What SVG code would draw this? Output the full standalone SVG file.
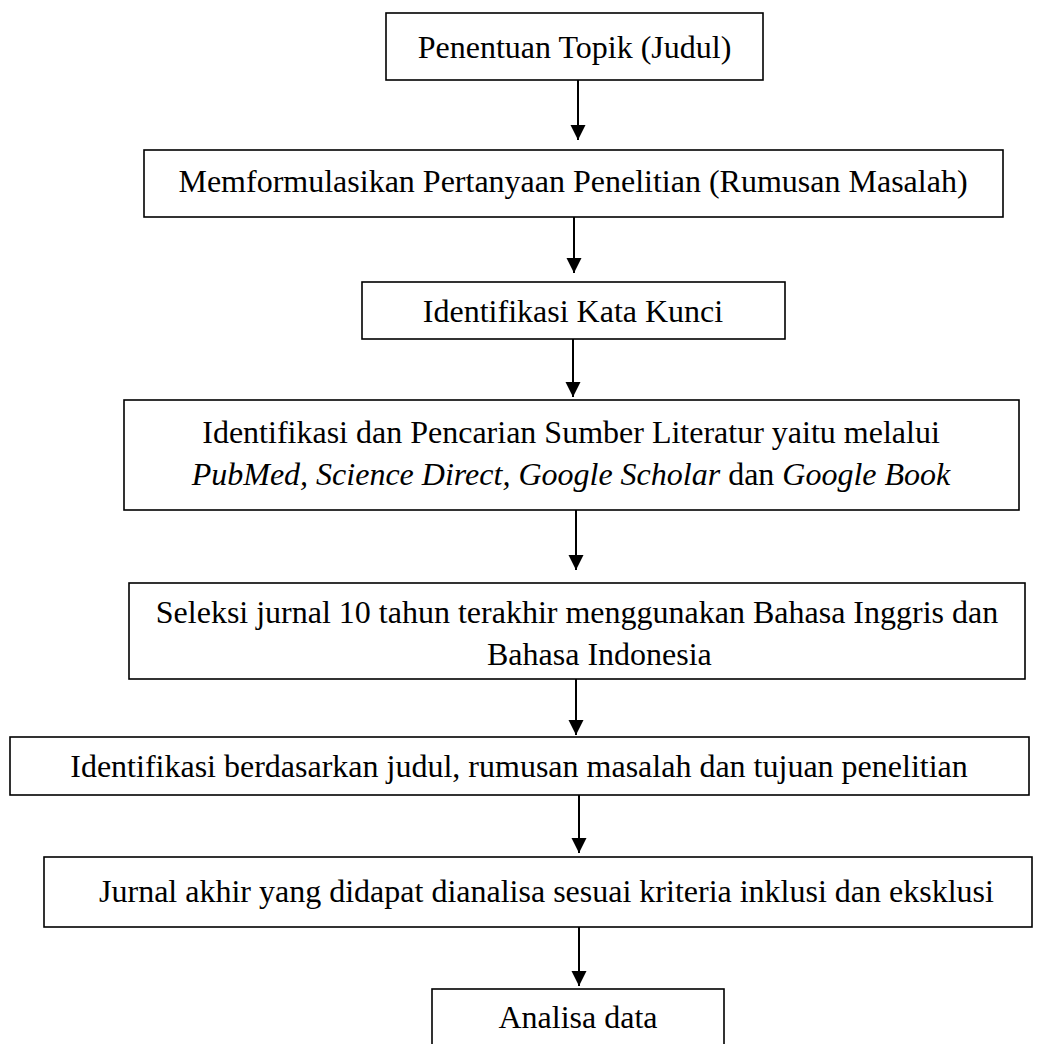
<svg xmlns="http://www.w3.org/2000/svg" width="1038" height="1044" viewBox="0 0 1038 1044">
<style>
.box{fill:#fff;stroke:#000;stroke-width:1.6}
.t{font-family:"Liberation Serif","Times New Roman",serif;font-size:32px;fill:#000}
.c{text-anchor:middle}
.i{font-style:italic}
.conn{stroke:#000;stroke-width:2;fill:none}
</style>
<defs>
<marker id="ah" markerUnits="userSpaceOnUse" markerWidth="16" markerHeight="16" refX="15" refY="7.5" orient="auto">
<path d="M0,0 L15,7.5 L0,15 z" fill="#000"/>
</marker>
</defs>
<rect x="0" y="0" width="1038" height="1044" fill="#fff"/>
<g id="connectors">
<line class="conn" x1="578" y1="80" x2="578" y2="140" marker-end="url(#ah)"/>
<line class="conn" x1="574" y1="217" x2="574" y2="273" marker-end="url(#ah)"/>
<line class="conn" x1="573" y1="339" x2="573" y2="397" marker-end="url(#ah)"/>
<line class="conn" x1="576" y1="510" x2="576" y2="570" marker-end="url(#ah)"/>
<line class="conn" x1="576" y1="679" x2="576" y2="735" marker-end="url(#ah)"/>
<line class="conn" x1="579" y1="795" x2="579" y2="853" marker-end="url(#ah)"/>
<line class="conn" x1="579" y1="927" x2="579" y2="986" marker-end="url(#ah)"/>
</g>
<g id="n1">
<rect class="box" x="386" y="13" width="377" height="67"/>
<text class="t c" x="574.5" y="58">Penentuan Topik (Judul)</text>
</g>
<g id="n2">
<rect class="box" x="144" y="150" width="859" height="67"/>
<text class="t c" x="573" y="192">Memformulasikan Pertanyaan Penelitian (Rumusan Masalah)</text>
</g>
<g id="n3">
<rect class="box" x="362" y="282" width="423" height="57"/>
<text class="t c" x="573" y="322">Identifikasi Kata Kunci</text>
</g>
<g id="n4">
<rect class="box" x="124" y="400" width="895" height="110"/>
<text class="t c" x="571" y="443">Identifikasi dan Pencarian Sumber Literatur yaitu melalui</text>
<text class="t c" x="571" y="485"><tspan class="i">PubMed, Science Direct, Google Scholar</tspan> dan <tspan class="i">Google Book</tspan></text>
</g>
<g id="n5">
<rect class="box" x="129" y="583" width="896" height="96"/>
<text class="t c" x="577" y="623">Seleksi jurnal 10 tahun terakhir menggunakan Bahasa Inggris dan</text>
<text class="t" x="487" y="665">Bahasa Indonesia</text>
</g>
<g id="n6">
<rect class="box" x="10" y="737" width="1019" height="58"/>
<text class="t c" x="519" y="777">Identifikasi berdasarkan judul, rumusan masalah dan tujuan penelitian</text>
</g>
<g id="n7">
<rect class="box" x="44" y="857" width="988" height="70"/>
<text class="t c" x="546.5" y="902">Jurnal akhir yang didapat dianalisa sesuai kriteria inklusi dan eksklusi</text>
</g>
<g id="n8">
<rect class="box" x="432" y="989" width="292" height="70"/>
<text class="t c" x="578" y="1028">Analisa data</text>
</g>
</svg>
